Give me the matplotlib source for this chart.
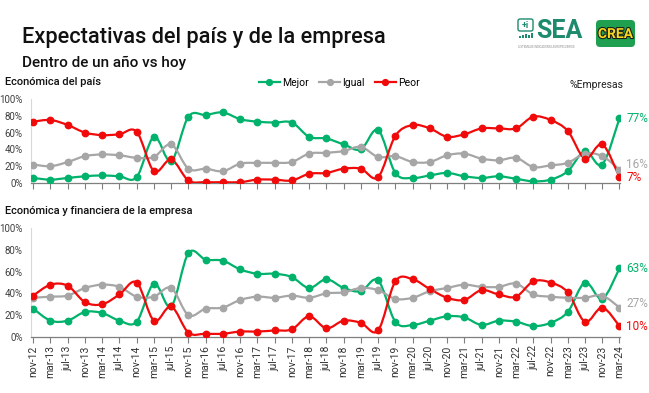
import matplotlib
matplotlib.use("Agg")
import matplotlib.pyplot as plt
import matplotlib.patheffects as pe
import numpy as np
from matplotlib.path import Path
from matplotlib.patches import PathPatch, FancyBboxPatch, Rectangle
from matplotlib.lines import Line2D

plt.rcParams['font.family'] = ['Roboto', 'DejaVu Sans']

labels = ["nov-12", "mar-13", "jul-13", "nov-13", "mar-14", "jul-14", "nov-14",
          "mar-15", "jul-15", "nov-15", "mar-16", "jul-16", "nov-16", "mar-17",
          "jul-17", "nov-17", "mar-18", "jul-18", "nov-18", "mar-19", "jul-19",
          "nov-19", "mar-20", "jul-20", "nov-20", "mar-21", "jul-21", "nov-21",
          "mar-22", "jul-22", "nov-22", "mar-23", "jul-23", "nov-23", "mar-24"]

pais_mejor = [6, 4, 6, 8, 9, 8, 7, 55, 26, 79, 81, 84, 76, 73, 72, 72, 55, 53,
              46, 40, 63, 12, 6, 9, 12, 8, 6, 8, 5, 2, 4, 14, 38, 22, 77]
pais_igual = [22, 20, 25, 32, 34, 33, 30, 31, 46, 17, 17, 14, 23, 24, 24, 25, 35, 36,
              38, 43, 31, 32, 25, 25, 33, 35, 29, 27, 30, 19, 21, 24, 35, 32, 16]
pais_peor = [73, 75, 69, 60, 57, 58, 61, 14, 28, 3, 1, 1, 1, 4, 4, 3, 11, 12,
             17, 17, 7, 56, 69, 65, 55, 58, 65, 65, 65, 79, 75, 62, 29, 46, 7]

emp_mejor = [26, 15, 15, 23, 22, 15, 14, 49, 28, 77, 71, 70, 62, 58, 58, 55, 45, 53,
             45, 42, 52, 14, 11, 15, 19, 18, 11, 15, 14, 10, 13, 23, 50, 35, 63]
emp_igual = [36, 37, 38, 45, 48, 46, 37, 37, 45, 20, 26, 27, 34, 37, 36, 38, 36, 40,
             41, 45, 43, 35, 36, 42, 45, 48, 46, 46, 49, 39, 37, 36, 36, 38, 27]
emp_peor = [38, 48, 47, 32, 30, 39, 50, 15, 28, 4, 3, 3, 5, 5, 6, 7, 19, 8,
            15, 13, 6, 51, 53, 44, 36, 34, 43, 39, 37, 51, 50, 41, 14, 27, 10]

series_names = ["Mejor", "Igual", "Peor"]
colors = ["#00B26B", "#A6A6A6", "#F00A0A"]

W, H = 649, 393
fig = plt.figure(figsize=(W / 100, H / 100), dpi=100)


def fx(px):
    return px / W


def fy(py):
    return 1 - py / H


def smooth_line(ax, x, y, color):
    pts = np.column_stack([x, y]).astype(float)
    n = len(pts)
    verts = [pts[0]]
    codes = [Path.MOVETO]
    for i in range(n - 1):
        p0 = pts[max(i - 1, 0)]
        p1 = pts[i]
        p2 = pts[i + 1]
        p3 = pts[min(i + 2, n - 1)]
        c1 = p1 + (p2 - p0) / 6.0
        c2 = p2 - (p3 - p1) / 6.0
        verts += [c1, c2, p2]
        codes += [Path.CURVE4] * 3
    patch = PathPatch(Path(verts, codes), facecolor="none", edgecolor=color,
                      lw=1.6, zorder=3, capstyle="round", joinstyle="round")
    ax.add_patch(patch)
    ax.plot(x, y, linestyle="none", marker="o", ms=4.6, color=color, zorder=4)


def make_axes(top_px, bot_px, data, show_labels, end_labels):
    left_px, right_px = 31, 620
    ax = fig.add_axes([fx(left_px), fy(bot_px), (right_px - left_px) / W,
                       (bot_px - top_px) / H])
    x = np.arange(len(labels))
    for vals, c in zip(data, colors):
        smooth_line(ax, x, vals, c)
    ax.set_xlim(-0.13, len(labels) - 1 + 0.03)
    ax.set_ylim(0, 100)
    ax.set_yticks([0, 20, 40, 60, 80, 100])
    ax.set_yticklabels([f"{v}%" for v in [0, 20, 40, 60, 80, 100]],
                       fontsize=7, color="#404040")
    ax.tick_params(axis="y", length=0, pad=6)
    ax.set_xticks(x)
    if show_labels:
        ax.set_xticklabels(labels, rotation=90, fontsize=7.5, color="#333333")
    else:
        ax.set_xticklabels([])
    ax.tick_params(axis="x", direction="out", length=4, width=0.8,
                   color="#7F7F7F", pad=2)
    for s in ["top", "right"]:
        ax.spines[s].set_visible(False)
    ax.spines["left"].set_color("#D9D9D9")
    ax.spines["left"].set_linewidth(0.8)
    ax.spines["bottom"].set_color("#7F7F7F")
    ax.spines["bottom"].set_linewidth(0.9)
    ax.patch.set_alpha(0)
    last = len(labels) - 1
    for vals, c, dy in zip(data, colors, end_labels):
        ax.annotate(f"{vals[-1]}%", xy=(last, vals[-1]), xytext=(5, dy),
                    textcoords="offset points", fontsize=8.5, color=c,
                    va="center", ha="left", annotation_clip=False)
    return ax


ax1 = make_axes(99, 183, [pais_mejor, pais_igual, pais_peor], False, [0, 4, 0])
ax2 = make_axes(228, 337, [emp_mejor, emp_igual, emp_peor], True, [0, 3, 0])

# Titles
fig.text(fx(22), fy(43), "Expectativas del país y de la empresa", fontsize=15.7,
         fontweight="medium", color="#111111", va="baseline", ha="left")
fig.text(fx(22), fy(67), "Dentro de un año vs hoy", fontsize=11,
         fontweight="medium", color="#111111", va="baseline", ha="left")
fig.text(fx(5), fy(85), "Económica del país", fontsize=8, fontweight="medium",
         color="#111111", va="baseline", ha="left")
fig.text(fx(5), fy(214), "Económica y financiera de la empresa", fontsize=8,
         fontweight="medium", color="#111111", va="baseline", ha="left")
fig.text(fx(570), fy(88), "%Empresas", fontsize=7.5, color="#222222",
         va="baseline", ha="left")

# Legend
handles = [Line2D([0], [0], color=c, lw=1.6, marker="o", ms=4.2)
           for c in colors]
fig.legend(handles, series_names, loc="center left",
           bbox_to_anchor=(fx(259), fy(83)), ncol=3, frameon=False,
           fontsize=7.5, handlelength=2.0, handletextpad=0.2, columnspacing=1.0,
           borderaxespad=0, borderpad=0)

# Logos
logo_ax = fig.add_axes([fx(510), fy(52), fx(140), 44 / H])
logo_ax.set_xlim(510, 650)
logo_ax.set_ylim(52, 8)
logo_ax.axis("off")
teal = "#1E8A6E"
logo_ax.add_patch(FancyBboxPatch((518, 19), 15, 12, boxstyle="round,pad=0,rounding_size=2",
                                 fc="white", ec=teal, lw=1.0))
logo_ax.text(525.5, 25.5, "+i", fontsize=6.5, color=teal, ha="center", va="center",
             fontweight="bold")
for k, hh in enumerate([2, 3, 4, 3, 5]):
    logo_ax.add_patch(Rectangle((519 + k * 3, 38 - hh), 2, hh, color=teal, lw=0))
logo_ax.text(536, 38.5, "SEA", fontsize=18, fontweight="bold", color=teal,
             ha="left", va="baseline")
logo_ax.text(518, 46.5, "SISTEMA DE INDICADORES AGROPECUARIOS", fontsize=2.0,
             color="#888888", ha="left", va="center")
logo_ax.add_patch(FancyBboxPatch((596, 20), 39, 27, boxstyle="round,pad=0,rounding_size=4",
                                 fc="#1FA050", ec="none"))
logo_ax.text(615.5, 34, "CREA", fontsize=10, fontweight="bold", color="#F6D81C",
             ha="center", va="center",
             path_effects=[pe.withStroke(linewidth=1.5, foreground="#1a1a1a")])

fig.savefig("out.png", dpi=100)
